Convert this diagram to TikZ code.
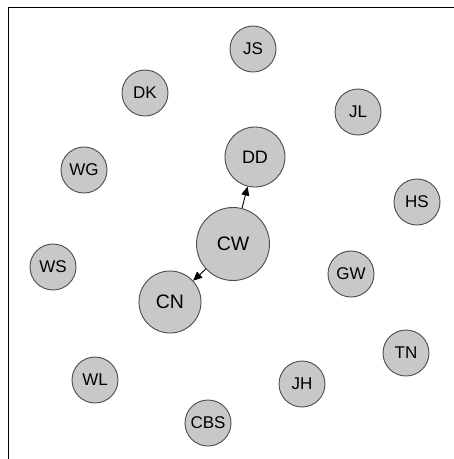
\documentclass[tikz,border=0pt]{standalone}
\usepackage{fontspec}
\setmainfont{Liberation Sans}
\usetikzlibrary{arrows.meta}
\definecolor{nodefill}{RGB}{200,200,200}
\definecolor{nodeline}{RGB}{75,75,75}
\begin{document}
\begin{tikzpicture}[x=1pt,y=-1pt,
  person/.style={circle,draw=nodeline,fill=nodefill,line width=0.9pt,inner sep=0pt,
    minimum size=#1,font=\fontsize{17}{17}\selectfont},
  person/.default=46pt,
  link/.style={draw=black,line width=0.9pt,-{Triangle[length=9pt,width=8pt]}}]
\useasboundingbox (0,0) rectangle (454,459);
\draw[line width=1pt] (454,7.5) -- (8,7.5) -- (8,459);
\node[person] (JS) at (253,49) {JS};
\node[person] (DK) at (145,93) {DK};
\node[person] (JL) at (358,112) {JL};
\node[person=60pt,font=\fontsize{18}{18}\selectfont] (DD) at (255,157) {DD};
\node[person] (WG) at (84,170) {WG};
\node[person] (HS) at (417,202) {HS};
\node[person=73pt,font=\fontsize{19.5}{19.5}\selectfont] (CW) at (233,244) {CW};
\node[person] (WS) at (53,267) {WS};
\node[person] (GW) at (351,274) {GW};
\node[person=62pt,font=\fontsize{19.5}{19.5}\selectfont] (CN) at (170,302) {CN};
\node[person] (TN) at (406,353) {TN};
\node[person] (WL) at (95,380) {WL};
\node[person] (JH) at (302,384) {JH};
\node[person] (CBS) at (208,423) {CBS};
\draw[link] (CW) -- (DD);
\draw[link] (CW) -- (CN);
\end{tikzpicture}
\end{document}
